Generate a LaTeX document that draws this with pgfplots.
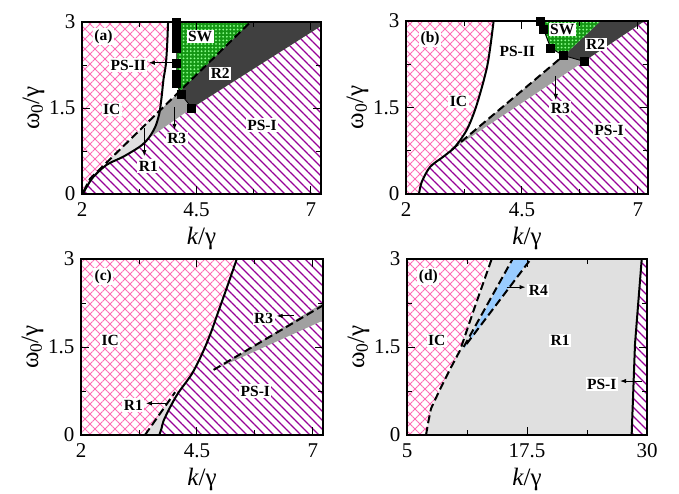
\documentclass[border=0pt]{standalone}
\usepackage{fontspec}
\setmainfont{Liberation Serif}
\usepackage{pgfplots}
\pgfplotsset{compat=1.18}
\usetikzlibrary{patterns.meta,arrows.meta}

\definecolor{icpink}{RGB}{255,105,180}
\definecolor{pspurp}{RGB}{150,0,150}
\definecolor{swgreen}{RGB}{20,150,20}
\definecolor{rone}{RGB}{224,224,224}
\definecolor{rthree}{RGB}{160,160,160}
\definecolor{rtwo}{RGB}{64,64,64}
\definecolor{rfour}{RGB}{153,204,255}

\tikzset{
 icpat/.style={draw=none, pattern={Hatch[angle=45,distance=7.071pt,line width=0.8pt]}, pattern color=icpink},
 pspat/.style={draw=none, pattern={Lines[angle=-45,distance=6.364pt,line width=1.2pt]}, pattern color=pspurp},
 swfill/.style={draw=none, fill=swgreen},
 swpat/.style={draw=none, pattern={Dots[distance=3.6pt,radius=1pt]}, pattern color=white!55!green},
 lab/.style={fill=white, inner sep=1.5pt, font=\bfseries\fontsize{15.5}{15.5}\selectfont},
 arr/.style={-{Latex[length=6pt,width=4.5pt]}, line width=0.9pt, black},
 solidln/.style={black, line width=2pt},
 dashln/.style={black, line width=2pt, dash pattern=on 8pt off 4pt},
}

\pgfplotsset{panel/.style={
  scale only axis, axis on top, clip marker paths=false,
  ymin=0, ymax=3, ytick={0,1.5,3}, minor ytick={0.75,2.25},
  tick align=inside, major tick length=8pt, minor tick length=5pt,
  tick style={black, line width=0.9pt},
  axis line style={line width=2pt},
  ticklabel style={font=\fontsize{21}{21}\selectfont},
  xticklabel style={yshift=-5pt},
  yticklabel style={xshift=-3pt},
  /pgf/number format/assume math mode=true,
  xlabel={\textit{k}/γ}, ylabel={ω\textsubscript{0}/γ},
  label style={font=\fontsize{25}{25}\selectfont},
  xlabel style={yshift=-4pt},
  ylabel style={yshift=-2pt},
}}

\begin{document}
\begin{tikzpicture}
\useasboundingbox (0,0) rectangle (679pt,494pt);

% ---------------- (a)
\begin{axis}[panel, at={(82pt,300pt)}, anchor=south west, width=239pt, height=172pt,
  xmin=2, xmax=7.22, xtick={2,4.5,7}, minor xtick={3.25,5.75}]
\addplot[pspat] coordinates {(2.02,0) (2.10,0.12) (2.25,0.30) (2.54,0.51) (2.90,0.65) (3.27,0.83) (3.45,0.97) (4.40,1.50) (7.22,2.97) (7.3,2.97) (7.3,0)};
\addplot[icpat] coordinates {(2,0) (2.02,0) (2.08,0.12) (2.18,0.27) (3.71,1.46) (3.74,1.70) (3.78,2.0) (3.83,2.25) (3.86,2.6) (3.88,3.0) (2,3)};
\addplot[draw=none, fill=rone] coordinates {(2.02,0) (2.08,0.12) (2.18,0.27) (3.71,1.46) (3.69,1.41) (3.60,1.17) (3.45,0.97) (3.27,0.83) (2.90,0.65) (2.54,0.51) (2.25,0.30) (2.10,0.12)};
\addplot[draw=none, fill=rthree] coordinates {(3.45,0.97) (3.60,1.17) (3.69,1.41) (3.71,1.46) (4.12,1.78) (4.17,1.73) (4.40,1.50)};
\addplot[draw=none, fill=rtwo] coordinates {(4.12,1.78) (5.68,3.0) (7.3,3.0) (7.3,2.97) (4.40,1.50) (4.17,1.73)};
\addplot[swfill] coordinates {(4.07,3.0) (4.07,1.93) (4.12,1.78) (5.68,3.0)};
\addplot[swpat] coordinates {(4.07,3.0) (4.07,1.93) (4.12,1.78) (5.68,3.0)};
\addplot[solidln, smooth, tension=0.5] coordinates {(2.02,0) (2.10,0.12) (2.25,0.30) (2.54,0.51) (2.90,0.65) (3.27,0.83) (3.45,0.97) (3.60,1.17) (3.69,1.41) (3.74,1.70) (3.78,2.0) (3.83,2.25) (3.86,2.6) (3.88,3.0)};
\addplot[dashln] coordinates {(2.04,0.05) (2.08,0.12) (2.18,0.27) (5.68,3.0)};
\addplot[black, line width=0.8pt, mark=square*, mark size=4pt] coordinates {(4.07,3.0) (4.07,2.93) (4.07,2.86) (4.07,2.79) (4.07,2.72) (4.07,2.65) (4.07,2.54) (4.07,2.28) (4.07,2.08) (4.07,1.93) (4.17,1.73) (4.40,1.50)};
\draw[arr] (axis cs:3.96,2.29) -- (axis cs:3.46,2.29);
\draw[arr] (axis cs:4.02,1.51) -- (axis cs:4.02,1.12);
\draw[arr] (axis cs:3.36,1.15) -- (axis cs:3.36,0.66);
\node[lab] at (axis cs:2.47,2.75) {(a)};
\node[lab] at (axis cs:3.01,2.25) {PS-II};
\node[lab] at (axis cs:2.65,1.47) {IC};
\node[lab] at (axis cs:4.58,2.75) {SW};
\node[lab] at (axis cs:5.02,2.10) {R2};
\node[lab] at (axis cs:5.93,1.20) {PS-I};
\node[lab] at (axis cs:4.07,0.97) {R3};
\node[lab] at (axis cs:3.45,0.49) {R1};
\end{axis}

% ---------------- (b)
\begin{axis}[panel, at={(406pt,300pt)}, anchor=south west, width=242pt, height=173pt,
  xmin=2, xmax=7.22, xtick={2,4.5,7}, minor xtick={3.25,5.75}]
\addplot[icpat] coordinates {(2,0) (2.28,0) (2.34,0.21) (2.52,0.47) (2.81,0.65) (3.06,0.82) (3.31,1.11) (3.49,1.46) (3.64,1.86) (3.75,2.21) (3.82,2.56) (3.89,3.0) (2,3)};
\addplot[pspat] coordinates {(2.28,0) (2.34,0.21) (2.52,0.47) (2.81,0.65) (2.99,0.77) (5.84,2.30) (7.15,3.0) (7.3,3.0) (7.3,0)};
\addplot[draw=none, fill=rthree] coordinates {(2.99,0.77) (5.40,2.40) (5.84,2.30)};
\addplot[draw=none, fill=rtwo] coordinates {(5.40,2.40) (6.20,3.0) (7.15,3.0) (5.84,2.30)};
\addplot[swfill] coordinates {(4.90,3.0) (4.97,2.85) (5.12,2.53) (5.40,2.40) (6.20,3.0)};
\addplot[swpat] coordinates {(4.90,3.0) (4.97,2.85) (5.12,2.53) (5.40,2.40) (6.20,3.0)};
\addplot[solidln, smooth, tension=0.5] coordinates {(2.28,0) (2.34,0.21) (2.52,0.47) (2.81,0.65) (3.06,0.82) (3.31,1.11) (3.49,1.46) (3.64,1.86) (3.75,2.21) (3.82,2.56) (3.89,3.0)};
\addplot[dashln] coordinates {(2.99,0.77) (5.40,2.40)};
\addplot[black, line width=0.9pt, mark=square*, mark size=4pt] coordinates {(4.90,3.0) (4.97,2.85) (5.12,2.53) (5.40,2.40) (5.84,2.30)};
\draw[arr] (axis cs:5.23,2.05) -- (axis cs:5.23,1.63);
\node[lab] at (axis cs:2.52,2.70) {(b)};
\node[lab] at (axis cs:4.40,2.47) {PS-II};
\node[lab] at (axis cs:5.37,2.85) {SW};
\node[lab] at (axis cs:6.09,2.59) {R2};
\node[lab] at (axis cs:3.13,1.60) {IC};
\node[lab] at (axis cs:5.33,1.49) {R3};
\node[lab] at (axis cs:6.38,1.11) {PS-I};
\end{axis}

% ---------------- (c)
\begin{axis}[panel, at={(81pt,59pt)}, anchor=south west, width=242pt, height=176pt,
  xmin=2, xmax=7.22, xtick={2,4.5,7}, minor xtick={3.25,5.75}]
\addplot[icpat] coordinates {(2,0) (3.69,0) (3.74,0.12) (3.78,0.24) (3.92,0.47) (4.10,0.72) (4.39,1.04) (4.61,1.38) (4.79,1.72) (4.97,2.12) (5.15,2.52) (5.36,3.0) (2,3)};
\addplot[pspat] coordinates {(3.69,0) (3.74,0.12) (3.78,0.24) (3.92,0.47) (4.10,0.72) (4.39,1.04) (4.61,1.38) (4.79,1.72) (4.97,2.12) (5.15,2.52) (5.36,3.0) (7.3,3) (7.3,0)};
\addplot[draw=none, fill=rone] coordinates {(3.38,0) (3.69,0) (3.74,0.12) (3.78,0.24) (3.92,0.47) (3.99,0.58) (3.90,0.58)};
\addplot[draw=none, fill=rthree] coordinates {(4.95,1.14) (7.3,2.29) (7.3,1.98)};
\addplot[solidln, smooth, tension=0.5] coordinates {(3.69,0) (3.74,0.12) (3.78,0.24) (3.92,0.47) (4.10,0.72) (4.39,1.04) (4.61,1.38) (4.79,1.72) (4.97,2.12) (5.15,2.52) (5.36,3.0)};
\addplot[dashln] coordinates {(3.38,0) (4.03,0.73)};
\addplot[dashln] coordinates {(4.86,1.11) (7.22,2.21)};
\draw[arr] (axis cs:6.59,2.03) -- (axis cs:6.22,2.03);
\draw[arr] (axis cs:3.85,0.54) -- (axis cs:3.40,0.54);
\node[lab] at (axis cs:2.48,2.70) {(c)};
\node[lab] at (axis cs:2.63,1.61) {IC};
\node[lab] at (axis cs:5.76,0.75) {PS-I};
\node[lab] at (axis cs:5.94,1.99) {R3};
\node[lab] at (axis cs:3.13,0.51) {R1};
\end{axis}

% ---------------- (d)
\begin{axis}[panel, at={(407pt,59pt)}, anchor=south west, width=240pt, height=176pt,
  xmin=5, xmax=30, xtick={5,17.5,30}, minor xtick={11.25,23.75}]
\addplot[icpat] coordinates {(5,0) (6.98,0) (7.25,0.25) (7.5,0.45) (8.44,0.78) (9.48,1.12) (10.52,1.44) (13.5,3.0) (5,3)};
\addplot[draw=none, fill=rone] coordinates {(6.98,0) (7.25,0.25) (7.5,0.45) (8.44,0.78) (9.48,1.12) (10.52,1.44) (12.1,2.2) (13.82,3.0) (29.45,3.0) (28.75,1.55) (28.4,0)};
\addplot[draw=none, fill=rfour] coordinates {(10.85,1.45) (16.1,3.0) (17.8,3.0)};
\addplot[pspat] coordinates {(28.4,0) (28.75,1.55) (29.45,3.0) (30.5,3) (30.5,0)};
\addplot[solidln] coordinates {(28.4,0) (28.75,1.55) (29.45,3.0)};
\addplot[dashln] coordinates {(6.98,0) (7.25,0.25) (7.5,0.45) (8.44,0.78) (9.48,1.12) (10.52,1.44) (12.1,2.2) (13.82,3.0)};
\addplot[dashln] coordinates {(10.9,1.5) (16.0,3.0)};
\addplot[dashln] coordinates {(11.2,1.55) (17.9,3.0)};
\draw[arr] (axis cs:15.38,2.52) -- (axis cs:17.35,2.52);
\draw[arr] (axis cs:29.45,0.92) -- (axis cs:27.2,0.92);
\node[lab] at (axis cs:7.22,2.70) {(d)};
\node[lab] at (axis cs:8.09,1.61) {IC};
\node[lab] at (axis cs:18.68,2.46) {R4};
\node[lab] at (axis cs:20.94,1.61) {R1};
\node[lab] at (axis cs:25.28,0.87) {PS-I};
\end{axis}
\end{tikzpicture}
\end{document}
